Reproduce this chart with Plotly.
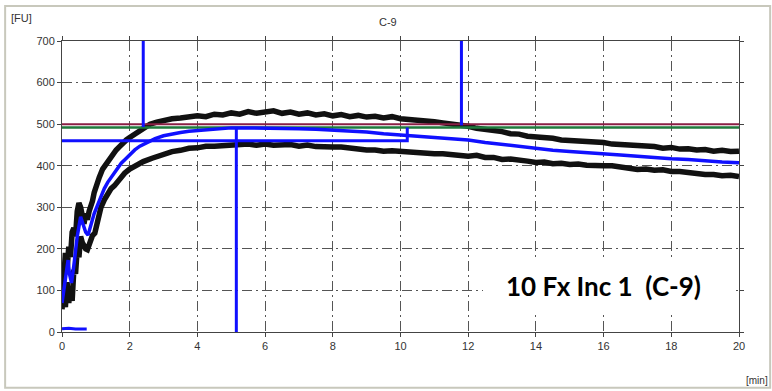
import plotly.graph_objects as go

# ---------------- data ----------------
t_upper = [0, 0.05, 0.1, 0.15, 0.2, 0.25, 0.3, 0.35, 0.4, 0.45, 0.5, 0.55, 0.6, 0.65, 0.7, 0.75,
           0.8, 0.85, 0.9, 0.95, 1.0, 1.1, 1.2, 1.3, 1.4, 1.5, 1.6, 1.7, 1.8, 1.9, 2.0, 2.2, 2.4,
           2.6, 2.8, 3.0, 3.25, 3.5, 3.75, 4.0, 4.25, 4.5, 4.75, 5.0, 5.25, 5.5, 5.75, 6.0, 6.25,
           6.5, 6.75, 7.0, 7.25, 7.5, 7.75, 8.0, 8.25, 8.5, 8.75, 9.0, 9.25, 9.5, 9.75, 10.0,
           10.25, 10.5, 10.75, 11.0, 11.25, 11.5, 11.75, 12.0, 12.25, 12.5, 12.75, 13.0, 13.25,
           13.5, 13.75, 14.0, 14.25, 14.5, 14.75, 15.0, 15.25, 15.5, 15.75, 16.0, 16.25, 16.5,
           16.75, 17.0, 17.25, 17.5, 17.75, 18.0, 18.25, 18.5, 18.75, 19.0, 19.25, 19.5, 19.75, 20.0]
upper = [60, 140, 190, 150, 205, 180, 240, 250, 230, 290, 310, 300, 270, 260, 285, 270,
         290, 300, 315, 335, 350, 372, 392, 405, 418, 428, 438, 446, 455, 462, 468, 480, 492,
         500, 505, 509, 513, 515, 519, 520, 518, 524, 522, 527, 524, 530, 526, 529, 532,
         526, 529, 524, 527, 522, 525, 520, 523, 518, 521, 517, 519, 515, 518, 513,
         512, 509, 507, 506, 503, 501, 497, 495, 490, 488, 483, 482, 477,
         476, 471, 470, 466, 466, 462, 461, 458, 459, 455, 456, 452, 451,
         448, 449, 445, 446, 442, 444, 440, 441, 438, 439, 435, 437, 434, 435]

t_median = [0, 0.05, 0.1, 0.15, 0.18, 0.22, 0.28, 0.35, 0.45, 0.55, 0.6, 0.7, 0.77, 0.85, 0.95,
            1.05, 1.15, 1.25, 1.35, 1.45, 1.55, 1.65, 1.75, 1.9, 2.0, 2.15, 2.3, 2.5, 2.75, 3.0,
            3.25, 3.5, 3.75, 4.0, 4.5, 5.0, 5.5, 6.0, 6.5, 7.0, 7.5, 8.0, 8.5, 9.0, 9.5, 10.0,
            10.5, 11.0, 11.5, 12.0, 12.5, 13.0, 13.5, 14.0, 14.5, 15.0, 15.5, 16.0, 16.5, 17.0,
            17.5, 18.0, 18.5, 19.0, 19.5, 20.0]
median = [70, 100, 130, 160, 173, 140, 118, 160, 230, 277, 265, 240, 233, 255, 285,
          305, 328, 345, 360, 372, 385, 397, 406, 418, 426, 438, 447, 455, 465, 472,
          477, 480, 483, 485, 488, 491, 491, 491, 490, 489, 488, 486, 484, 481, 477, 474,
          469, 467, 465, 462, 456, 451, 446, 440, 437, 434, 432, 429, 426, 423,
          419, 417, 415, 411, 409, 407]

t_lower = [0, 0.05, 0.1, 0.15, 0.2, 0.25, 0.3, 0.35, 0.4, 0.45, 0.5, 0.55, 0.6, 0.65, 0.7, 0.75,
           0.8, 0.85, 0.9, 0.97, 1.05, 1.15, 1.25, 1.35, 1.45, 1.55, 1.7, 1.85, 2.0, 2.2, 2.4,
           2.66, 3.0, 3.25, 3.5, 3.75, 4.0, 4.25, 4.5, 4.75, 5.0, 5.25, 5.5, 5.75, 6.0, 6.25,
           6.5, 6.75, 7.0, 7.25, 7.5, 7.75, 8.0, 8.25, 8.5, 8.75, 9.0, 9.25, 9.5, 9.75, 10.0,
           10.25, 10.5, 10.75, 11.0, 11.25, 11.5, 11.75, 12.0, 12.25, 12.5, 12.75, 13.0, 13.25,
           13.5, 13.75, 14.0, 14.25, 14.5, 14.75, 15.0, 15.25, 15.5, 15.75, 16.0, 16.25, 16.5,
           16.75, 17.0, 17.25, 17.5, 17.75, 18.0, 18.25, 18.5, 18.75, 19.0, 19.25, 19.5, 19.75, 20.0]
lower = [55, 90, 60, 120, 70, 100, 75, 150, 140, 200, 180, 230, 215, 205, 200, 198,
         210, 225, 232, 238, 270, 300, 318, 335, 345, 352, 368, 382, 392, 402, 410,
         418, 428, 434, 437, 442, 443, 447, 447, 448, 450, 448, 452, 449, 452, 449,
         450, 451, 447, 450, 446, 447, 445, 445, 442, 441, 438, 438, 435, 436, 434,
         434, 430, 431, 429, 429, 427, 426, 423, 425, 420, 420, 415, 416,
         412, 411, 408, 409, 405, 406, 403, 404, 401, 402, 400, 400, 396,
         395, 391, 392, 389, 390, 386, 386, 383, 383, 379, 379, 376, 377, 374]

t_zero = [0, 0.2, 0.4, 0.6, 0.73]
zero_vals = [8, 9, 7, 8, 7]

limit_x = [0, 20]
limit_red = [500, 500]
limit_green = [492, 492]

# evaluation markers (blue cursor lines)
cursor1_x = [2.4, 2.4];   cursor1_y = [700, 493]
cursor2_x = [11.8, 11.8]; cursor2_y = [700, 497]
peak_x = [0, 5.15];       peak_y = [460, 460]
peak_v_x = [5.15, 5.15];  peak_v_y = [491, 0]
hline_x = [5.15, 10.2, 10.2]; hline_y = [460, 460, 492]

x_ticks = [0, 2, 4, 6, 8, 10, 12, 14, 16, 18, 20]
y_ticks = [0, 100, 200, 300, 400, 500, 600, 700]

# ---------------- figure ----------------
BLUE = "#1010ff"
BLACK = "#111111"

fig = go.Figure()
fig.add_trace(go.Scatter(x=t_upper, y=upper, mode="lines", line=dict(color=BLACK, width=5.5)))
fig.add_trace(go.Scatter(x=t_lower, y=lower, mode="lines", line=dict(color=BLACK, width=5.5)))
fig.add_trace(go.Scatter(x=limit_x, y=limit_green, mode="lines", line=dict(color="#1e7a3c", width=2.5)))
fig.add_trace(go.Scatter(x=limit_x, y=limit_red, mode="lines", line=dict(color="#8a1f45", width=2)))
fig.add_trace(go.Scatter(x=t_median, y=median, mode="lines", line=dict(color=BLUE, width=3.5)))
fig.add_trace(go.Scatter(x=t_zero, y=zero_vals, mode="lines", line=dict(color=BLUE, width=3)))
for xs, ys in [(cursor1_x, cursor1_y), (cursor2_x, cursor2_y), (peak_x, peak_y),
               (peak_v_x, peak_v_y), (hline_x, hline_y)]:
    fig.add_trace(go.Scatter(x=xs, y=ys, mode="lines", line=dict(color=BLUE, width=3)))

grid = dict(showgrid=True, gridcolor="#555555", gridwidth=1, griddash="10px,4px,2px,4px",
            showline=True, linecolor="#444444", linewidth=1, mirror="allticks",
            ticks="outside", ticklen=4, tickcolor="#444444", zeroline=False,
            tickfont=dict(family="Liberation Sans, Arial", size=11, color="#333333"))

fig.update_layout(
    width=772, height=391,
    margin=dict(l=62, r=33, t=41, b=59),
    paper_bgcolor="white", plot_bgcolor="white",
    showlegend=False,
    xaxis=dict(range=[0, 20], tickvals=x_ticks, **grid),
    yaxis=dict(range=[0, 700], tickvals=y_ticks, **grid),
    shapes=[
        dict(type="rect", xref="paper", yref="paper", x0=-0.084, x1=1.046, y0=-0.192, y1=1.12,
             line=dict(color="#c8c8bc", width=2), fillcolor="rgba(0,0,0,0)", layer="below"),
        dict(type="rect", xref="paper", yref="paper", x0=(483 - 62) / 677, x1=(734 - 62) / 677,
             y0=(332 - 312) / 291, y1=(332 - 258) / 291,
             line=dict(width=0), fillcolor="white", layer="above"),
    ],
    annotations=[
        dict(text="[FU]", xref="paper", yref="paper", x=(9 - 62) / 677, y=(332 - 18) / 291,
             xanchor="left", yanchor="middle", showarrow=False,
             font=dict(family="Liberation Sans, Arial", size=11, color="#333333")),
        dict(text="C-9", xref="paper", yref="paper", x=(388 - 62) / 677, y=(332 - 22) / 291,
             xanchor="center", yanchor="middle", showarrow=False,
             font=dict(family="Liberation Sans, Arial", size=11, color="#333333")),
        dict(text="[min]", xref="paper", yref="paper", x=(770 - 62) / 677, y=(332 - 380) / 291,
             xanchor="right", yanchor="middle", showarrow=False,
             font=dict(family="Liberation Sans, Arial", size=10, color="#333333")),
        dict(text="<b>10 Fx Inc 1  (C-9)</b>", xref="paper", yref="paper",
             x=(603 - 62) / 677, y=(332 - 286) / 291, xanchor="center", yanchor="middle",
             showarrow=False, font=dict(family="Lato", size=26, color="#000000")),
    ],
)

fig.write_html("out.html")
